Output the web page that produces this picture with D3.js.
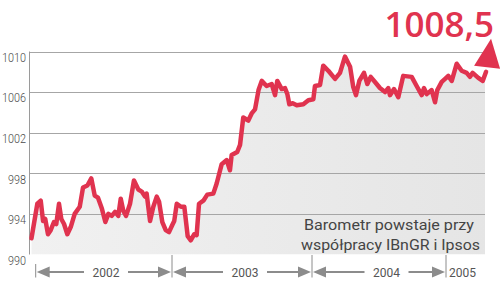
<!DOCTYPE html>
<html><head><meta charset="utf-8">
<script src="https://cdn.jsdelivr.net/npm/d3@7"></script>
<style>html,body{margin:0;padding:0;background:#fff;}svg{display:block;}</style>
</head><body>
<svg id="c" width="500" height="283"></svg>
<script>
// decimal-year time positions of the index readings
const times = [2001.969,2002.012,2002.037,2002.054,2002.070,2002.090,2002.110,2002.134,2002.151,2002.171,2002.188,2002.208,2002.232,2002.257,2002.286,2002.323,2002.347,2002.379,2002.408,2002.433,2002.457,2002.486,2002.511,2002.533,2002.558,2002.582,2002.606,2002.624,2002.643,2002.663,2002.692,2002.721,2002.753,2002.778,2002.802,2002.814,2002.839,2002.863,2002.888,2002.905,2002.929,2002.954,2002.978,
2003.002,2003.016,2003.034,2003.064,2003.088,2003.112,2003.134,2003.159,2003.176,2003.193,2003.224,2003.252,2003.295,2003.319,2003.355,2003.391,2003.414,2003.426,2003.466,2003.486,2003.509,2003.545,2003.569,2003.593,2003.618,2003.641,2003.676,2003.712,2003.736,2003.752,2003.784,2003.807,2003.824,2003.838,2003.862,2003.891,2003.938,2003.974,
2004.010,2004.022,2004.060,2004.084,2004.122,2004.172,2004.209,2004.246,2004.284,2004.308,2004.328,2004.353,2004.388,2004.413,2004.438,2004.470,2004.507,2004.545,2004.569,2004.582,2004.612,2004.644,2004.681,2004.744,2004.781,2004.819,2004.836,2004.856,2004.893,2004.918,2004.935,2004.968,2004.993,
2005.017,2005.043,2005.080,2005.117,2005.154,2005.179,2005.199,2005.241,2005.274,2005.299];
const values = [991.6,995.0,995.3,993.3,993.5,992.0,992.4,993.2,993.0,995.0,993.5,993.0,992.0,992.7,994.0,994.7,996.6,996.8,997.5,995.8,995.6,994.5,993.2,994.0,993.8,994.2,993.8,995.5,994.3,993.8,995.0,997.3,996.4,996.2,995.7,996.0,993.3,994.7,995.7,995.2,993.2,992.4,992.2,
992.9,993.3,995.0,994.7,994.7,991.8,991.4,992.0,991.9,995.0,995.3,995.9,996.0,997.0,998.9,999.3,998.3,999.8,1000.1,1000.8,1003.5,1003.2,1003.9,1004.3,1006.2,1007.1,1006.6,1006.8,1005.7,1007.1,1006.3,1006.4,1005.8,1004.8,1004.9,1004.7,1004.8,1005.2,
1005.3,1006.6,1006.7,1008.6,1008.1,1007.3,1007.9,1009.5,1008.5,1006.5,1005.7,1007.1,1007.9,1006.8,1007.5,1007.0,1006.4,1006.0,1006.4,1005.7,1006.3,1005.5,1007.6,1007.5,1006.6,1005.7,1006.4,1005.8,1006.2,1005.0,1006.2,1007.0,1007.3,
1007.6,1007.1,1008.8,1008.1,1007.9,1007.5,1007.9,1007.4,1007.1,1008.0];
const gridValues = [994, 998, 1002, 1006, 1010];
const yTickLabels = ["990", "994", "998", "1002", "1006", "1010"];
const yearTicks = [2002, 2003, 2004, 2005];
const yearLabels = ["2002", "2003", "2004", "2005"];
const latestLabel = "1008,5";
const noteLines = ["Barometr powstaje przy", "współpracy IBnGR i Ipsos"];

const RED = "#e0334f";
const svg = d3.select("#c");
const x = d3.scaleLinear().domain([2002, 2003, 2004, 2005]).range([35.7, 172, 312, 446]);
const y = d3.scaleLinear().domain([990, 1010]).range([254.5, 51.5]);
const plotL = 29.5, plotR = 485;
const data = times.map((t, i) => ({t, v: values[i]}));

const defs = svg.append("defs");
const grad = defs.append("linearGradient").attr("id", "g").attr("x1", "0").attr("x2", "1").attr("y1", "0").attr("y2", "0");
grad.append("stop").attr("offset", "0").attr("stop-color", "#f1f1f1");
grad.append("stop").attr("offset", "1").attr("stop-color", "#e5e5e5");
defs.append("clipPath").attr("id", "clip").append("rect")
  .attr("x", plotL).attr("y", 0).attr("width", plotR - plotL).attr("height", y(990));

// area
svg.append("path").datum(data)
  .attr("clip-path", "url(#clip)")
  .attr("fill", "url(#g)")
  .attr("d", d3.area().x(d => x(d.t)).y0(y(990)).y1(d => y(d.v)));

// gridlines
svg.append("g").selectAll("line").data(gridValues).join("line")
  .attr("x1", plotL).attr("x2", plotR)
  .attr("y1", d => Math.round(y(d)) + 0.5).attr("y2", d => Math.round(y(d)) + 0.5)
  .attr("stroke", "#a6a6a6").attr("stroke-width", 1);

// y axis line
svg.append("line").attr("x1", plotL).attr("x2", plotL).attr("y1", y(1010)).attr("y2", y(990))
  .attr("stroke", "#9a9a9a").attr("stroke-width", 1);

// y labels
svg.append("g").selectAll("text").data(yTickLabels).join("text")
  .attr("x", 26).attr("y", d => y(+d) + 10.3)
  .attr("text-anchor", "end")
  .attr("font-family", "Roboto").attr("font-weight", 300).attr("font-size", 13)
  .attr("fill", "#4a4a4a")
  .attr("textLength", d => d.length === 4 ? 24 : 18)
  .attr("lengthAdjust", "spacingAndGlyphs")
  .text(d => d);

// line
svg.append("path").datum(data)
  .attr("fill", "none").attr("stroke", RED).attr("stroke-width", 4.5)
  .attr("stroke-linejoin", "round").attr("stroke-linecap", "round")
  .attr("d", d3.line().x(d => x(d.t)).y(d => y(d.v)));

// arrow head at the end
const last = data[data.length - 1];
const lx = x(last.t), ly = y(last.v);
svg.append("path")
  .attr("fill", RED)
  .attr("d", `M${lx + 5},${ly - 33} L${lx - 12},${ly - 6} L${lx + 14},${ly - 3} Z`);

// latest value label
svg.append("text").attr("x", 494).attr("y", 36.5).attr("text-anchor", "end")
  .attr("font-family", "Open Sans").attr("font-weight", 600).attr("font-size", 35)
  .attr("fill", RED).text(latestLabel);

// note
svg.append("g").selectAll("text").data(noteLines).join("text")
  .attr("x", (d, i) => i === 0 ? 474 : 480)
  .attr("y", (d, i) => i === 0 ? 229.5 : 249.5)
  .attr("text-anchor", "end")
  .attr("font-family", "Roboto").attr("font-size", 14.5)
  .attr("fill", "#444")
  .attr("textLength", (d, i) => i === 0 ? 170 : 179)
  .attr("lengthAdjust", "spacingAndGlyphs")
  .text(d => d);

// x axis: year brackets with arrows
const axY = 272, GRAY = "#8c8c8c";
const xa = svg.append("g");
xa.append("line").attr("x1", x(2002)).attr("x2", x(2002)).attr("y1", 264).attr("y2", 277.5)
  .attr("stroke", GRAY).attr("stroke-width", 1);
yearTicks.slice(1).forEach(t => {
  xa.append("line").attr("x1", x(t)).attr("x2", x(t)).attr("y1", 255).attr("y2", 277.5)
    .attr("stroke", GRAY).attr("stroke-width", 1);
});
const segs = [[2002, 2003, 106], [2003, 2004, 245], [2004, 2005, 386.5]];
segs.forEach(([a, b, c], i) => {
  const xa0 = x(a) + 1, xb0 = x(b) - 1;
  const tl = c - 13 - 9, tr = c + 13 + 9;
  const ah = 13, hw = 5.5;
  xa.append("line").attr("x1", xa0 + ah - 1).attr("x2", tl).attr("y1", axY).attr("y2", axY)
    .attr("stroke", GRAY).attr("stroke-width", 2);
  xa.append("path").attr("fill", GRAY).attr("d", `M${xa0},${axY} L${xa0 + ah},${axY - hw} L${xa0 + ah},${axY + hw} Z`);
  xa.append("line").attr("x1", tr).attr("x2", xb0 - ah + 1).attr("y1", axY).attr("y2", axY)
    .attr("stroke", GRAY).attr("stroke-width", 2);
  xa.append("path").attr("fill", GRAY).attr("d", `M${xb0},${axY} L${xb0 - ah},${axY - hw} L${xb0 - ah},${axY + hw} Z`);
  xa.append("text").attr("x", c).attr("y", 277).attr("text-anchor", "middle")
    .attr("font-family", "Roboto").attr("font-size", 12).attr("fill", "#555")
    .text(yearLabels[i]);
});
xa.append("text").attr("x", x(2005) + 3).attr("y", 277).attr("text-anchor", "start")
  .attr("font-family", "Roboto").attr("font-size", 12).attr("fill", "#555")
  .text(yearLabels[3]);
</script>
</body></html>
